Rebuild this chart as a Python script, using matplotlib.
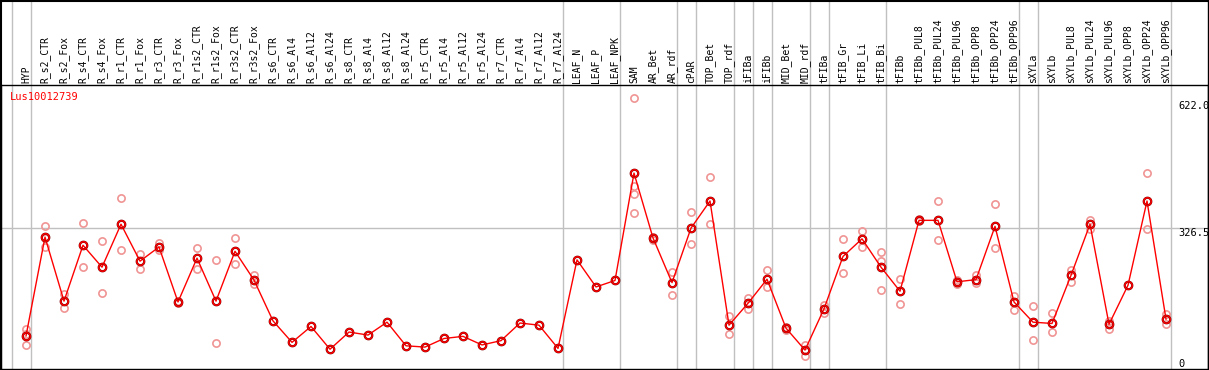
import matplotlib
matplotlib.use("Agg")
import matplotlib.pyplot as plt
import matplotlib.transforms as mtransforms
from matplotlib.lines import Line2D

SAVE_FILENAME = "out.png"
GENE = "Lus10012739"

samples = [
    "HYP",
    "R_s2_CTR", "R_s2_Fox", "R_s4_CTR", "R_s4_Fox", "R_r1_CTR", "R_r1_Fox",
    "R_r3_CTR", "R_r3_Fox", "R_r1s2_CTR", "R_r1s2_Fox", "R_r3s2_CTR", "R_r3s2_Fox",
    "R_s6_CTR", "R_s6_Al4", "R_s6_Al12", "R_s6_Al24",
    "R_s8_CTR", "R_s8_Al4", "R_s8_Al12", "R_s8_Al24",
    "R_r5_CTR", "R_r5_Al4", "R_r5_Al12", "R_r5_Al24",
    "R_r7_CTR", "R_r7_Al4", "R_r7_Al12", "R_r7_Al24",
    "LEAF_N", "LEAF_P", "LEAF_NPK",
    "SAM", "AR_Bet", "AR_rdf", "cPAR", "TOP_Bet", "TOP_rdf",
    "iFIBa", "iFIBb", "MID_Bet", "MID_rdf",
    "tFIBa", "tFIB_Gr", "tFIB_Li", "tFIB_Bi",
    "tFIBb", "tFIBb_PUL8", "tFIBb_PUL24", "tFIBb_PUL96",
    "tFIBb_OPP8", "tFIBb_OPP24", "tFIBb_OPP96",
    "sXYLa", "sXYLb", "sXYLb_PUL8", "sXYLb_PUL24", "sXYLb_PUL96",
    "sXYLb_OPP8", "sXYLb_OPP24", "sXYLb_OPP96",
]

# mean expression per sample
means = [
    76,
    306, 157, 287, 236, 336, 250, 283, 155, 257, 157, 273, 206,
    111, 61, 98, 45, 85, 78, 108, 53, 50, 70, 75, 55, 65, 106, 101, 47,
    253, 190, 205,
    455, 304, 200, 327, 390, 101,
    152, 208, 94, 43,
    139, 261, 302, 236,
    180, 345, 345, 202, 207, 331, 155,
    108, 105, 217, 336, 103, 194, 390, 115,
]

# individual replicates (empty where only the mean is shown)
reps = [
    [93, 80, 54],
    [332, 304, 284], [174, 157, 140], [338, 236], [296, 176], [397, 275], [267, 231],
    [293, 275], [158, 152], [280, 231], [252, 59], [303, 243], [217, 197],
    [], [], [], [], [], [], [], [], [], [], [], [], [], [], [], [],
    [], [], [],
    [629, 425, 406, 362], [300, 306], [225, 171], [364, 289], [445, 336], [122, 80],
    [165, 139], [229, 189], [97, 90], [55, 30],
    [148, 130], [302, 222], [320, 283], [271, 250, 184],
    [208, 150], [347, 343], [390, 299], [207, 196], [218, 198], [382, 280], [169, 136],
    [146, 66], [129, 84], [229, 202], [346, 326], [111, 93], [], [455, 324], [126, 103],
]

# sample index after which a group separator is drawn
group_ends = [-1, 0, 28, 31, 34, 35, 37, 38, 39, 41, 42, 45, 52, 53, 60]
right_ticks = [622.0, 326.5, 0]

W, H = 1209, 370
fig = plt.figure(figsize=(W / 100, H / 100), dpi=100)
ax = fig.add_axes([1 / W, 1 / H, 1207 / W, 284 / H])
ax.set_xlim(-1.316, 62.21)
ax.set_ylim(-1, 660)
ax.set_xticks([])
ax.set_yticks([])
for s in ax.spines.values():
    s.set_color("black")
    s.set_linewidth(1)

mono = "DejaVu Sans Mono"
top_frac = 369 / 284.0

# separators and grid
for g in group_ends:
    ax.axvline(g + 0.24, ymin=0, ymax=top_frac, color="#c0c0c0", lw=1,
               clip_on=False, zorder=1)
ax.axhline(326.5, color="#c0c0c0", lw=1, zorder=1)

# replicates
for i, r in enumerate(reps):
    if r:
        ax.plot([i] * len(r), r, linestyle="none", marker="o", ms=5.2,
                mfc="none", mec="#f09494", mew=1.2, zorder=2)

# mean line
x = list(range(len(means)))
ax.plot(x, means, color="red", lw=1, zorder=3)
ax.plot(x, means, linestyle="none", marker="o", ms=5.4, mfc="none",
        mec="#7a0000", mew=1.6, zorder=4)
ax.plot(x, means, linestyle="none", marker="o", ms=5.4, mfc="none",
        mec="red", mew=1.0, zorder=5)

# sample labels above the plot
trans = mtransforms.blended_transform_factory(ax.transData, ax.transAxes)
for i, name in enumerate(samples):
    ax.text(i, 286 / 284.0, name, rotation=90, ha="center", va="bottom",
            family=mono, fontsize=7, transform=trans, clip_on=False)

# right side value labels
tx = mtransforms.blended_transform_factory(ax.transAxes, ax.transData)
for v in right_ticks:
    lab = "0" if v == 0 else "%.1f" % v
    ax.text(1177 / 1207.0, v, lab, ha="left",
            va="bottom" if v == 0 else "top", family=mono, fontsize=7.5,
            transform=tx, clip_on=True)

ax.text(9 / 1207.0, 1 - 12 / 284.0, GENE, color="red", family=mono,
        fontsize=7.5, ha="left", va="center", transform=ax.transAxes)

# outer frame
fig.add_artist(Line2D([1 / W, 1 / W], [1 / H, 1], color="black", lw=1.5,
                      transform=fig.transFigure))
fig.add_artist(Line2D([1 / W, 1208 / W], [1 - 0.5 / H, 1 - 0.5 / H], color="black",
                      lw=1.5, transform=fig.transFigure))
fig.add_artist(Line2D([1208 / W, 1208 / W], [1 / H, 1], color="black", lw=1,
                      transform=fig.transFigure))

fig.savefig(SAVE_FILENAME, dpi=100)
